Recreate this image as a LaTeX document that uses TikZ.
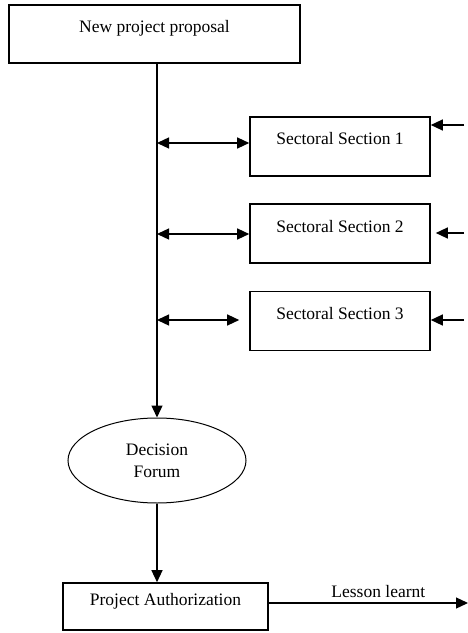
\documentclass[tikz,border=0pt]{standalone}
\usepackage{fontspec}
\setmainfont{Liberation Serif}
\usetikzlibrary{arrows.meta,shapes.geometric}

\begin{document}
\begin{tikzpicture}[
    x=1bp, y=-1bp,
    font=\fontsize{17.5bp}{22bp}\selectfont,
    >={Triangle[length=12bp,width=11bp]},
    box/.style={draw, line width=1.6bp, inner sep=0pt,
        text height=12bp, text depth=15bp},
    sector/.style={box, minimum width=180bp, minimum height=59bp},
    flow/.style={line width=1.3bp},
]
    \useasboundingbox (0,0) rectangle (468,633);

    \node (proposal)
        at (154.5,34) [box, minimum width=291bp, minimum height=58bp]
        {New project proposal}
        ;

    \node (sec1) at (340,146.5) [sector] {Sectoral Section 1};
    \node (sec2) at (340,233.5) [sector] {Sectoral Section 2};
    \node (sec3) at (340,321) [sector] {Sectoral Section 3};

    \node (forum)
        at (157,460.5) [draw, ellipse, line width=1bp, inner sep=0pt,
            minimum width=178bp, minimum height=85bp, align=center]
        {Decision\\Forum}
        ;

    \node (auth)
        at (165.5,606.5) [box, minimum width=205bp, minimum height=47bp]
        {Project Authorization}
        ;

    \coordinate (j1) at (157,143);
    \coordinate (j2) at (157,234);
    \coordinate (j3) at (157,320);
    \coordinate (in1) at (464,125);
    \coordinate (in2) at (464,233);
    \coordinate (in3) at (464,320);
    \coordinate (out) at (468,603);

    \draw [flow, ->]
        (forum.north |- proposal.south) -- (forum.north)
        ;
    \draw [flow, <->] (j1) -- (j1 -| sec1.west);
    \draw [flow, <->] (j2) -- (j2 -| sec2.west);
    \draw [flow, <->, shorten >=10bp] (j3) -- (j3 -| sec3.west);

    \draw [flow, ->] (in1) -- (in1 -| sec1.east);
    \draw [flow, ->, shorten >=5bp] (in2) -- (in2 -| sec2.east);
    \draw [flow, ->] (in3) -- (in3 -| sec3.east);

    \draw [flow, ->]
        (forum.south) -- (forum.south |- auth.north)
        ;
    \draw [flow, ->]
        (auth.east |- out) -- (out)
            node [pos=0.55, above=1bp] {Lesson learnt}
        ;
\end{tikzpicture}
\end{document}
